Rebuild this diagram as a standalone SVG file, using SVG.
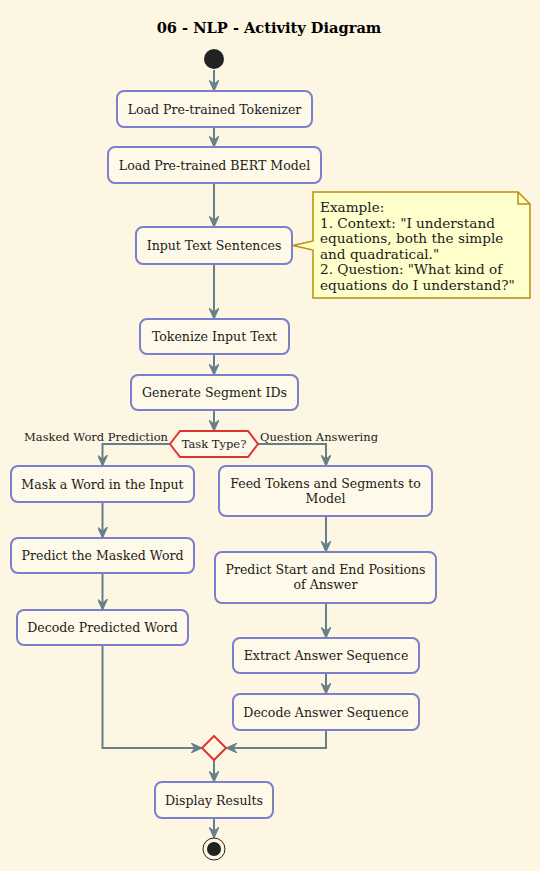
<svg xmlns="http://www.w3.org/2000/svg" width="540" height="871" viewBox="0 0 540 871">
<defs>
<marker id="arr" viewBox="0 0 12 10" refX="11" refY="5" markerWidth="12" markerHeight="10" markerUnits="userSpaceOnUse" orient="auto">
<path d="M0,0 L11,5 L0,10 L4,5 Z" fill="#66808A" stroke="#66808A" stroke-width="1"/>
</marker>
</defs>
<style>
.box{fill:#FEF9E8;stroke:#7B7FCC;stroke-width:2}
.t{font-family:"DejaVu Serif",serif;font-size:12.55px;fill:#1a1a1a;text-anchor:middle}
.lbl{font-family:"DejaVu Serif",serif;font-size:11.5px;fill:#1a1a1a}
.note{font-family:"DejaVu Serif",serif;font-size:13.6px;fill:#1a1a1a}
.ln{fill:none;stroke:#66808A;stroke-width:2}
.dec{fill:#FEF9E8;stroke:#E0332E;stroke-width:2}
</style>
<rect width="540" height="871" fill="#FDF6E3"/>
<text x="269" y="33" font-family="DejaVu Serif,serif" font-size="14.6" font-weight="bold" text-anchor="middle" fill="#000">06 - NLP - Activity Diagram</text>
<g id="connectors">
<line class="ln" x1="214" y1="70" x2="214" y2="91" marker-end="url(#arr)"/>
<line class="ln" x1="214" y1="127" x2="214" y2="147" marker-end="url(#arr)"/>
<line class="ln" x1="214" y1="183" x2="214" y2="227" marker-end="url(#arr)"/>
<line class="ln" x1="214" y1="264" x2="214" y2="319" marker-end="url(#arr)"/>
<line class="ln" x1="214" y1="354" x2="214" y2="375" marker-end="url(#arr)"/>
<line class="ln" x1="214" y1="410" x2="214" y2="431" marker-end="url(#arr)"/>
<polyline class="ln" points="170,444 102.5,444 102.5,466" marker-end="url(#arr)"/>
<polyline class="ln" points="258,444 326,444 326,466" marker-end="url(#arr)"/>
<line class="ln" x1="102.5" y1="502" x2="102.5" y2="538" marker-end="url(#arr)"/>
<line class="ln" x1="102.5" y1="573" x2="102.5" y2="610" marker-end="url(#arr)"/>
<line class="ln" x1="326" y1="516" x2="326" y2="552" marker-end="url(#arr)"/>
<line class="ln" x1="326" y1="603" x2="326" y2="638" marker-end="url(#arr)"/>
<line class="ln" x1="326" y1="673" x2="326" y2="694" marker-end="url(#arr)"/>
<polyline class="ln" points="102.5,645 102.5,748 202,748" marker-end="url(#arr)"/>
<polyline class="ln" points="326,730 326,748 226,748" marker-end="url(#arr)"/>
<line class="ln" x1="214" y1="760" x2="214" y2="782" marker-end="url(#arr)"/>
<line class="ln" x1="214" y1="818" x2="214" y2="838" marker-end="url(#arr)"/>
</g>
<g id="start"><circle cx="214" cy="59" r="10" fill="#222"/></g>
<g id="n1"><rect class="box" x="117" y="91" width="195" height="36" rx="7"/><text class="t" x="214.5" y="113.5">Load Pre-trained Tokenizer</text></g>
<g id="n2"><rect class="box" x="108" y="147" width="213" height="36" rx="7"/><text class="t" x="214.5" y="169.5">Load Pre-trained BERT Model</text></g>
<g id="n3"><rect class="box" x="136" y="227" width="156" height="37" rx="7"/><text class="t" x="214" y="250">Input Text Sentences</text></g>
<g id="note"><path d="M313,192 L518,192 L530,204 L530,298 L313,298 L313,250 L293,245.5 L313,241 Z" fill="#FFFFCC" stroke="#B8900E" stroke-width="1.5"/><path d="M518,192 L518,204 L530,204" fill="none" stroke="#B8900E" stroke-width="1.5"/>
<text class="note" x="320" y="212">Example:</text>
<text class="note" x="320" y="227.5">1. Context: "I understand</text>
<text class="note" x="320" y="243">equations, both the simple</text>
<text class="note" x="320" y="258.5">and quadratical."</text>
<text class="note" x="320" y="274">2. Question: "What kind of</text>
<text class="note" x="320" y="289.5">equations do I understand?"</text></g>
<g id="n4"><rect class="box" x="140" y="319" width="149" height="35" rx="7"/><text class="t" x="214.5" y="341">Tokenize Input Text</text></g>
<g id="n5"><rect class="box" x="131" y="375" width="167" height="35" rx="7"/><text class="t" x="214.5" y="397">Generate Segment IDs</text></g>
<g id="d1"><polygon class="dec" points="170,444 180,431 248,431 258,444 248,457 180,457"/><text class="lbl" x="214" y="448" text-anchor="middle">Task Type?</text>
<text class="lbl" x="168" y="441" text-anchor="end">Masked Word Prediction</text>
<text class="lbl" x="260" y="441">Question Answering</text></g>
<g id="n6"><rect class="box" x="11" y="466" width="183" height="36" rx="7"/><text class="t" x="102.5" y="488.5">Mask a Word in the Input</text></g>
<g id="n7"><rect class="box" x="11" y="538" width="183" height="35" rx="7"/><text class="t" x="102.5" y="560">Predict the Masked Word</text></g>
<g id="n8"><rect class="box" x="17" y="610" width="171" height="35" rx="7"/><text class="t" x="102.5" y="632">Decode Predicted Word</text></g>
<g id="n9"><rect class="box" x="219" y="466" width="213" height="50" rx="7"/><text class="t" x="325.5" y="487.5">Feed Tokens and Segments to</text><text class="t" x="325.5" y="502.5">Model</text></g>
<g id="n10"><rect class="box" x="215" y="552" width="221" height="51" rx="7"/><text class="t" x="325.5" y="574">Predict Start and End Positions</text><text class="t" x="325.5" y="589">of Answer</text></g>
<g id="n11"><rect class="box" x="233" y="638" width="186" height="35" rx="7"/><text class="t" x="326" y="660">Extract Answer Sequence</text></g>
<g id="n12"><rect class="box" x="233" y="694" width="186" height="36" rx="7"/><text class="t" x="326" y="716.5">Decode Answer Sequence</text></g>
<g id="merge"><polygon class="dec" points="214,736 226,748 214,760 202,748"/></g>
<g id="n13"><rect class="box" x="155" y="782" width="118" height="36" rx="7"/><text class="t" x="214" y="804.5">Display Results</text></g>
<g id="end"><circle cx="214" cy="849" r="11" fill="none" stroke="#222" stroke-width="1"/><circle cx="214" cy="849" r="7" fill="#222"/></g>
</svg>
